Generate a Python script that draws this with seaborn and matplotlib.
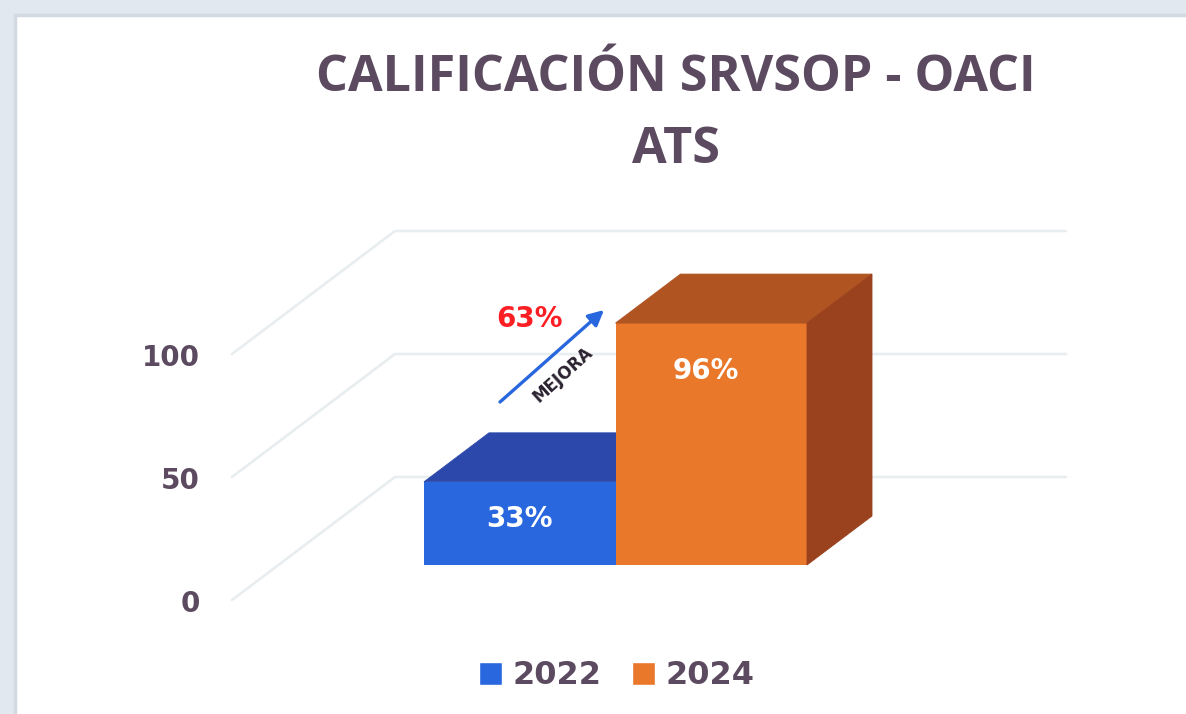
import pandas as pd
import matplotlib.pyplot as plt
import seaborn as sns
from matplotlib.patches import Polygon, Rectangle

years = ['2022', '2024']
scores = [33, 96]
score_labels = ['33%', '96%']
wall_ticks = [0, 50, 100]
title_text = 'CALIFICACIÓN SRVSOP - OACI\nATS'
gain_label = '63%'
arrow_label = 'MEJORA'

W, H = 1186, 714
txt = '#5b4a60'
grid_c = '#e8edf0'
front = ['#2967de', '#ea782b']
top = ['#2b48aa', '#b05422']
side = '#9a411d'


def box(l, t, r, b):
    # pixel box (from top left) to figure fractions
    return [l / W, 1 - b / H, (r - l) / W, (b - t) / H]


sns.set_style('white')
plt.rcParams['font.family'] = ['DejaVu Sans']

fig = plt.figure(figsize=(W / 100, H / 100), dpi=100, facecolor='#e1e8f0')

# white card behind the chart
fig.add_artist(Rectangle((15 / W, -0.01), 1.01 - 15 / W, 1.01 - 15 / H, transform=fig.transFigure,
                         facecolor='white', edgecolor='#d2d9e0', linewidth=2.5, zorder=-5))

fig.text(676 / W, 1 - 114 / H, title_text, ha='center', va='center', color=txt,
         fontsize=36.2, fontweight='bold', family='Open Sans', linespacing=1.56)

# back wall and floor lines, 0 to 150 so the depth of 50 units fits
wall = fig.add_axes(box(232, 231, 1066, 600))
wall.set_xlim(0, 834)
wall.set_ylim(0, 150)
wall.axis('off')
for v in wall_ticks:
    wall.plot([0, 163, 834], [v, v + 50, v + 50], color=grid_c, lw=1.9, clip_on=False)
    wall.annotate(str(v), (0, v), xytext=(-32, -4), textcoords='offset pixels', ha='right',
                  va='center', color=txt, fontsize=20, fontweight='bold')

# front faces of the bars
ax = fig.add_axes(box(424, 313, 807, 565))
ax.patch.set_alpha(0)
df = pd.DataFrame({'year': years, 'score': scores})
sns.barplot(data=df, x='year', y='score', hue='year', palette=front, width=1, legend=False,
            saturation=1, ax=ax, linewidth=0, zorder=3)
ax.set_xlim(-0.5, 1.5)
ax.set_ylim(0, 100)
ax.axis('off')

# depth of the blocks in data units of ax
dx = 65 / 191.5
dy = 49 / 2.52
for i, v in enumerate(scores):
    ax.add_patch(Polygon([(i - 0.5, v), (i - 0.5 + dx, v + dy), (i + 0.5 + dx, v + dy), (i + 0.5, v)],
                         facecolor=top[i], edgecolor=top[i], lw=0.6, clip_on=False, zorder=2 + i))
    ax.text(i if i == 0 else i - 0.03, v * 0.55 if i == 0 else v * 0.8, score_labels[i],
            ha='center', va='center', color='white', fontsize=20, fontweight='bold', zorder=6)
ax.add_patch(Polygon([(1.5, 0), (1.5 + dx, dy), (1.5 + dx, scores[1] + dy), (1.5, scores[1])],
                     facecolor=side, edgecolor=side, lw=0.6, clip_on=False, zorder=3))

# improvement arrow between the two years
ax.annotate('', xy=(604 / W, 1 - 310 / H), xytext=(500 / W, 1 - 402 / H),
            xycoords='figure fraction', textcoords='figure fraction', zorder=7,
            annotation_clip=False,
            arrowprops=dict(arrowstyle='-|>', color=front[0], lw=2.4, mutation_scale=23,
                            shrinkA=0, shrinkB=0))
fig.text(530 / W, 1 - 319 / H, gain_label, ha='center', va='center', color='#fb1f24',
         fontsize=20, fontweight='bold')
fig.text(563 / W, 1 - 375 / H, arrow_label, ha='center', va='center', color='#2b2230',
         fontsize=12, fontweight='bold', rotation=42, rotation_mode='anchor', zorder=8)

# legend
handles = [Rectangle((0, 0), 1, 1, facecolor=c) for c in front]
fig.legend(handles, years, loc='center', bbox_to_anchor=(617 / W, 1 - 676 / H), ncol=2, frameon=False,
           prop={'size': 23, 'weight': 'bold'}, labelcolor=txt, handlelength=0.7, handleheight=0.7,
           handletextpad=0.35, columnspacing=0.95, borderpad=0)

fig.savefig('out.png', dpi=100, facecolor=fig.get_facecolor())
